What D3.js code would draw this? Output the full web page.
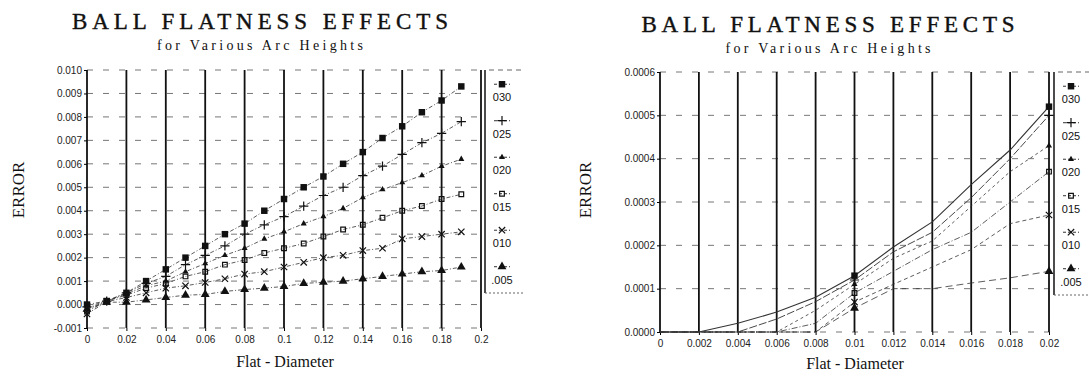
<!DOCTYPE html>
<html>
<head>
<meta charset="utf-8">
<script src="https://cdn.jsdelivr.net/npm/d3@7"></script>
<style>
  body { margin: 0; background: #fff; }
  .tick text { font-family: "Liberation Sans", Arial, sans-serif; font-size: 10px; fill: #222; }
</style>
</head>
<body>
<svg class="chart" width="1089" height="376"></svg>
<script>
// arc heights (legend labels as printed)
const arcHeights = ["030", "025", "020", "015", "010", ".005"];

// left chart: flat diameter 0 .. 0.19
const leftFlat = [0, 0.01, 0.02, 0.03, 0.04, 0.05, 0.06, 0.07, 0.08, 0.09,
  0.1, 0.11, 0.12, 0.13, 0.14, 0.15, 0.16, 0.17, 0.18, 0.19];
const leftErr030 = [0, 0.00015, 0.0005, 0.001, 0.0015, 0.002, 0.0025, 0.003, 0.00345, 0.004,
  0.0045, 0.005, 0.00546, 0.006, 0.0065, 0.0071, 0.0076, 0.0082, 0.0087, 0.0093];
const leftErr025 = [-0.0001, 0.00015, 0.0005, 0.0009, 0.0012, 0.0017, 0.0021, 0.0025, 0.003, 0.0034,
  0.00375, 0.0042, 0.00465, 0.005, 0.0055, 0.0059, 0.0064, 0.0069, 0.0073, 0.0078];
const leftErr020 = [-0.0002, 0.00015, 0.00045, 0.0008, 0.001, 0.0014, 0.00175, 0.0021, 0.0024, 0.0028,
  0.0031, 0.00345, 0.00375, 0.0041, 0.00456, 0.0049, 0.0052, 0.0055, 0.0059, 0.0062];
const leftErr015 = [-0.0003, 0.00015, 0.0004, 0.0007, 0.0009, 0.0012, 0.0014, 0.0017, 0.0019, 0.0022,
  0.0024, 0.0026, 0.0029, 0.0032, 0.0034, 0.0037, 0.004, 0.0042, 0.0045, 0.0047];
const leftErr010 = [-0.0004, 0.00012, 0.0003, 0.0005, 0.0007, 0.0008, 0.00094, 0.0011, 0.0013, 0.0014,
  0.0016, 0.0018, 0.002, 0.0021, 0.0023, 0.0024, 0.0028, 0.0029, 0.003, 0.0031];
const leftErr005 = [-0.0002, 0.0001, 0.0001, 0.0002, 0.0003, 0.0004, 0.00043, 0.00056, 0.00064, 0.0007,
  0.00077, 0.0009, 0.00095, 0.001, 0.0011, 0.0012, 0.0013, 0.0014, 0.00145, 0.0016];

const leftXTicks = [0, 0.02, 0.04, 0.06, 0.08, 0.1, 0.12, 0.14, 0.16, 0.18, 0.2];
const leftXLabels = ["0", "0.02", "0.04", "0.06", "0.08", "0.1", "0.12", "0.14", "0.16", "0.18", "0.2"];
const leftYTicks = [-0.001, 0, 0.001, 0.002, 0.003, 0.004, 0.005, 0.006, 0.007, 0.008, 0.009, 0.01];
const leftYLabels = ["-0.001", "0.000", "0.001", "0.002", "0.003", "0.004", "0.005",
  "0.006", "0.007", "0.008", "0.009", "0.010"];

// right chart: flat diameter 0 .. 0.02
const rightFlat = [0, 0.002, 0.004, 0.006, 0.008, 0.01, 0.012, 0.014, 0.016, 0.018, 0.02];
const rightErr030 = [0, 0, 0.00002, 0.000046, 0.00008, 0.00013, 0.000196, 0.000254, 0.00034, 0.00042, 0.00052];
const rightErr025 = [0, 0, 0, 0.00003, 0.00007, 0.00012, 0.000185, 0.00023, 0.00031, 0.0004, 0.0005];
const rightErr020 = [0, 0, 0, 0, 0.00005, 0.00011, 0.00017, 0.00021, 0.00029, 0.00037, 0.00043];
const rightErr015 = [0, 0, 0, 0, 0.00002, 0.00009, 0.00014, 0.00019, 0.00023, 0.0003, 0.00037];
const rightErr010 = [0, 0, 0, 0, 0, 0.000069, 0.00011, 0.00015, 0.00019, 0.00025, 0.00027];
const rightErr005 = [0, 0, 0, 0, 0, 0.000055, 0.0001, 0.0001, 0.000113, 0.000125, 0.00014];
const rightMarkAt = [0.01, 0.02];

const rightXTicks = [0, 0.002, 0.004, 0.006, 0.008, 0.01, 0.012, 0.014, 0.016, 0.018, 0.02];
const rightXLabels = ["0", "0.002", "0.004", "0.006", "0.008", "0.01", "0.012", "0.014", "0.016", "0.018", "0.02"];
const rightYTicks = [0, 0.0001, 0.0002, 0.0003, 0.0004, 0.0005, 0.0006];
const rightYLabels = ["0.0000", "0.0001", "0.0002", "0.0003", "0.0004", "0.0005", "0.0006"];

const svg = d3.select(".chart");
const serif = "'Liberation Serif', 'Times New Roman', serif";

svg.append("rect").attr("width", 1089).attr("height", 376).attr("fill", "#fff");

const sym = (t, s) => d3.symbol().type(t).size(s)();
const markers = [
  { path: sym(d3.symbolSquare, 42), fill: "#111", stroke: "none" },
  { path: sym(d3.symbolPlus || d3.symbolCross, 30), fill: "none", stroke: "#111" },
  { path: sym(d3.symbolTriangle, 16), fill: "#111", stroke: "none" },
  { path: sym(d3.symbolSquare2 || d3.symbolSquare, 28), fill: "none", stroke: "#111" },
  { path: sym(d3.symbolX || d3.symbolCross, 28), fill: "none", stroke: "#111" },
  { path: sym(d3.symbolTriangle, 34), fill: "#111", stroke: "none" }
];

const drawChart = opt => {
  const x = d3.scaleLinear().domain(opt.xDomain).range(opt.xRange);
  const y = d3.scaleLinear().domain(opt.yDomain).range(opt.yRange);
  const g = svg.append("g");
  const top = opt.yRange[1], bottom = opt.yRange[0];

  // titles
  g.append("text")
    .attr("x", opt.titleX).attr("y", opt.titleY)
    .attr("text-anchor", "middle")
    .attr("textLength", opt.titleLen).attr("lengthAdjust", "spacing")
    .style("font-family", serif).style("font-size", "23px")
    .attr("fill", "#111").attr("stroke", "#111").attr("stroke-width", 0.4)
    .text("BALL FLATNESS EFFECTS");
  g.append("text")
    .attr("x", opt.titleX).attr("y", opt.titleY + 21)
    .attr("text-anchor", "middle")
    .attr("textLength", opt.subLen).attr("lengthAdjust", "spacing")
    .style("font-family", serif).style("font-size", "14px")
    .attr("fill", "#111")
    .text("for Various Arc Heights");

  // horizontal dashed grid
  g.selectAll(".hgrid").data(opt.yTicks).enter().append("line")
    .attr("x1", opt.xRange[0]).attr("x2", opt.xRange[1])
    .attr("y1", d => y(d)).attr("y2", d => y(d))
    .attr("stroke", "#777").attr("stroke-width", 1)
    .attr("stroke-dasharray", "6,10");

  // vertical solid grid
  g.selectAll(".vgrid").data(opt.xTicks).enter().append("line")
    .attr("x1", d => x(d)).attr("x2", d => x(d))
    .attr("y1", top).attr("y2", bottom)
    .attr("stroke", "#111").attr("stroke-width", 1.8);

  // axes
  g.append("g")
    .attr("transform", `translate(${opt.xRange[0]},0)`)
    .call(d3.axisLeft(y).tickValues(opt.yTicks).tickSize(3).tickPadding(2)
      .tickFormat((d, i) => opt.yLabels[i]))
    .select(".domain").remove();
  g.append("g")
    .attr("transform", `translate(0,${bottom})`)
    .call(d3.axisBottom(x).tickValues(opt.xTicks).tickSize(3).tickPadding(5)
      .tickFormat((d, i) => opt.xLabels[i]))
    .select(".domain").remove();

  // axis titles
  g.append("text")
    .attr("transform", `translate(${opt.errX},${opt.errY}) rotate(-90)`)
    .attr("text-anchor", "middle")
    .style("font-family", serif).style("font-size", "17px")
    .attr("fill", "#111")
    .text("ERROR");
  g.append("text")
    .attr("x", opt.flatX).attr("y", opt.flatY)
    .attr("text-anchor", "middle")
    .style("font-family", serif).style("font-size", "16px")
    .attr("fill", "#111")
    .text("Flat - Diameter");

  // series lines
  const line = d3.line().x((d, i) => x(opt.flat[i])).y(d => y(d));
  g.selectAll(".series").data(opt.series).enter().append("path")
    .attr("d", d => line(d))
    .attr("fill", "none")
    .attr("stroke", "#333")
    .attr("stroke-width", (d, i) => opt.lineWidths[i])
    .attr("stroke-dasharray", (d, i) => opt.dashes[i]);

  // markers
  opt.series.forEach((s, k) => {
    const pts = s.map((v, i) => [opt.flat[i], v])
      .filter(p => opt.markAt ? opt.markAt.includes(p[0]) : true);
    g.selectAll(null).data(pts).enter().append("path")
      .attr("transform", p => `translate(${x(p[0])},${y(p[1])})`)
      .attr("d", markers[k].path)
      .attr("fill", markers[k].fill)
      .attr("stroke", markers[k].stroke)
      .attr("stroke-width", 1.2);
  });

  // legend
  const lg = g.append("g");
  lg.append("line")
    .attr("x1", opt.legX).attr("x2", opt.legX)
    .attr("y1", top).attr("y2", opt.legBottom)
    .attr("stroke", "#111").attr("stroke-width", 1.5);
  lg.append("line")
    .attr("x1", opt.legX).attr("x2", opt.legX + 38)
    .attr("y1", opt.legBottom).attr("y2", opt.legBottom)
    .attr("stroke", "#666").attr("stroke-dasharray", "2,2");
  lg.append("line")
    .attr("x1", opt.legX + 4).attr("x2", opt.legX + 38)
    .attr("y1", top).attr("y2", top)
    .attr("stroke", "#666").attr("stroke-dasharray", "5,4");
  const ly = d3.scaleBand().domain(arcHeights).range([top + 4, opt.legBottom]);
  const cx = opt.legX + 17;
  arcHeights.forEach((a, k) => {
    const sy = ly(a) + ly.bandwidth() * 0.28;
    lg.append("line")
      .attr("x1", cx - 8).attr("x2", cx + 8)
      .attr("y1", sy).attr("y2", sy)
      .attr("stroke", "#333").attr("stroke-dasharray", "3,2");
    lg.append("path")
      .attr("transform", `translate(${cx},${sy})`)
      .attr("d", markers[k].path)
      .attr("fill", markers[k].fill)
      .attr("stroke", markers[k].stroke)
      .attr("stroke-width", 1.2);
    lg.append("text")
      .attr("x", cx).attr("y", ly(a) + ly.bandwidth() * 0.75)
      .attr("text-anchor", "middle")
      .style("font-family", "'Liberation Sans', Arial, sans-serif")
      .style("font-size", "11px")
      .attr("fill", "#111")
      .text(a);
  });
};

drawChart({
  xDomain: [0, 0.2], xRange: [87, 481],
  yDomain: [-0.001, 0.01], yRange: [328, 70],
  xTicks: leftXTicks, xLabels: leftXLabels,
  yTicks: leftYTicks, yLabels: leftYLabels,
  flat: leftFlat,
  series: [leftErr030, leftErr025, leftErr020, leftErr015, leftErr010, leftErr005],
  lineWidths: [0.8, 0.8, 0.8, 0.8, 0.8, 0.8],
  dashes: ["4,2,1,2", "4,2,1,2", "4,2,1,2", "4,2,1,2", "4,2,1,2", "4,2,1,2"],
  titleX: 260, titleY: 29, titleLen: 376, subLen: 206,
  errX: 24, errY: 190, flatX: 285, flatY: 367,
  legX: 485, legBottom: 293
});

drawChart({
  xDomain: [0, 0.02], xRange: [660, 1049],
  yDomain: [0, 0.0006], yRange: [332, 72],
  xTicks: rightXTicks, xLabels: rightXLabels,
  yTicks: rightYTicks, yLabels: rightYLabels,
  flat: rightFlat, markAt: rightMarkAt,
  series: [rightErr030, rightErr025, rightErr020, rightErr015, rightErr010, rightErr005],
  lineWidths: [1.1, 0.9, 0.8, 0.8, 0.8, 0.8],
  dashes: ["none", "8,2", "3,3", "6,2,1,2", "4,3", "7,4"],
  titleX: 828, titleY: 32, titleLen: 373, subLen: 205,
  errX: 591, errY: 190, flatX: 855, flatY: 369,
  legX: 1054, legBottom: 295
});
</script>
</body>
</html>
